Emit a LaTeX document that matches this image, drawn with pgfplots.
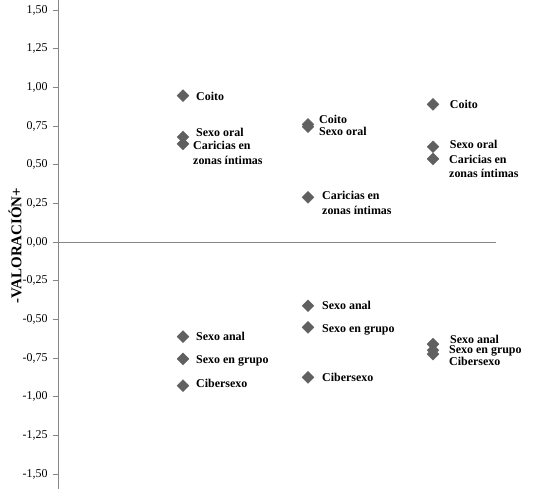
\documentclass[border=0pt]{standalone}
\usepackage{fontspec}
\setmainfont{Liberation Serif}
\usepackage{pgfplots}
\usepackage{pgfplotstable}
\pgfplotsset{compat=1.18}

\definecolor{mk}{HTML}{606060}
\definecolor{axgray}{HTML}{868686}

% x = group, y = valoración, lx/ly = where the label starts
\pgfplotstableread{
x y lx ly lab
1 0.946 1.104 0.940 Coito
1 0.679 1.104 0.709 {Sexo oral}
1 0.634 1.080 0.575 {Caricias en\\zonas íntimas}
1 -0.612 1.104 -0.612 {Sexo anal}
1 -0.756 1.104 -0.769 {Sexo en grupo}
1 -0.929 1.104 -0.913 Cibersexo
2 0.760 2.088 0.792 Coito
2 0.745 2.088 0.712 {Sexo oral}
2 0.289 2.112 0.253 {Caricias en\\zonas íntimas}
2 -0.412 2.112 -0.408 {Sexo anal}
2 -0.552 2.112 -0.565 {Sexo en grupo}
2 -0.875 2.112 -0.875 Cibersexo
3 0.890 3.134 0.892 Coito
3 0.616 3.134 0.632 {Sexo oral}
3 0.537 3.128 0.487 {Caricias en\\zonas íntimas}
3 -0.660 3.136 -0.628 {Sexo anal}
3 -0.700 3.128 -0.705 {Sexo en grupo}
3 -0.725 3.128 -0.775 Cibersexo
}\points

\begin{document}
\begin{tikzpicture}
\useasboundingbox (-58bp,-247bp) rectangle (476bp,242bp);
\begin{axis}[
    at={(0,0)}, anchor=origin,
    x=125bp, y=154.67bp,
    xmin=0, xmax=3.5,
    ymin=-1.597, ymax=1.565,
    axis x line=middle,
    axis y line=left,
    axis line style={-, draw=axgray, line width=0.8pt},
    xtick=\empty,
    ytick={-1.5,-1.25,...,1.5},
    tick align=outside,
    major tick length=5bp,
    tick style={draw=axgray, line width=0.8pt},
    yticklabel style={
        font=\fontsize{12}{14}\selectfont, xshift=-2bp,
        /pgf/number format/.cd, fixed, fixed zerofill, precision=2,
        use comma, assume math mode=true},
    clip=false,
]
% markers
\addplot[
    only marks,
    mark=square*,
    mark size=4.2bp,
    mark options={rotate=45, fill=mk, draw=mk},
] table[x=x, y=y] {\points};
% labels
\addplot[
    only marks, mark=none,
    point meta=explicit symbolic,
    nodes near coords,
    every node near coord/.style={
        anchor=west, inner sep=0pt, align=left,
        font=\fontsize{12}{14.5}\selectfont\bfseries, text=black},
] table[x=lx, y=ly, meta=lab] {\points};
\end{axis}
\node[rotate=90, font=\fontsize{15}{17}\selectfont\bfseries] at (-43bp,-3.5bp) {-VALORACIÓN+};
\end{tikzpicture}
\end{document}
